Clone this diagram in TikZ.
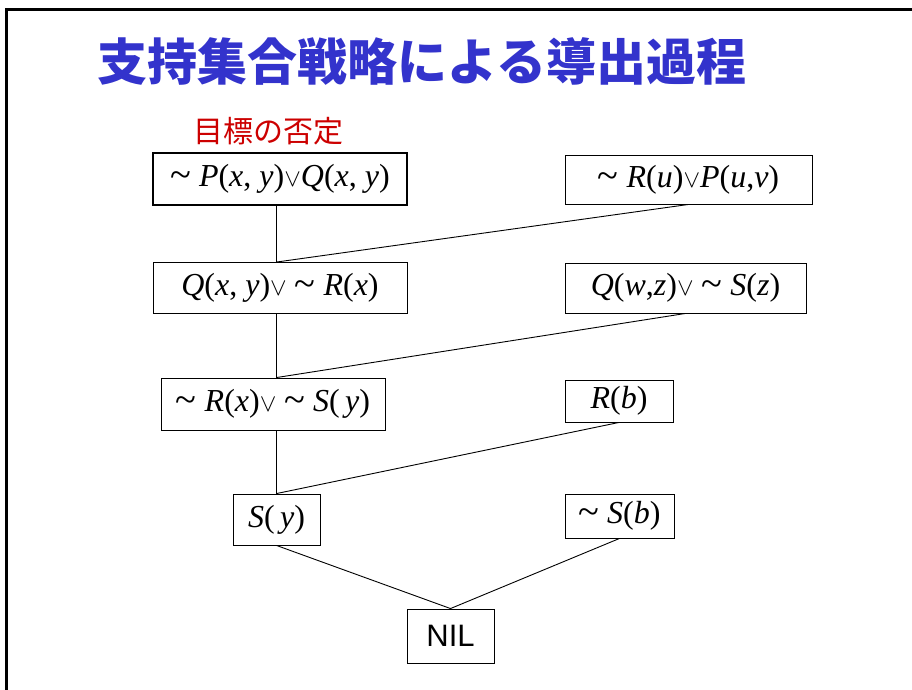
\documentclass[tikz,border=0pt]{standalone}
\usepackage{fontspec}
\setmainfont{Liberation Serif}
\newfontfamily\cjk{Noto Sans CJK JP}
\newfontfamily\nilfont{Liberation Sans}
\usetikzlibrary{positioning}
\definecolor{titleblue}{RGB}{51,51,204}
\definecolor{goalred}{RGB}{204,0,0}
\newcommand{\mi}[1]{\textit{#1}}
\newcommand{\tld}{\raisebox{-0.04em}{\scalebox{1.2}{\textasciitilde}}\ }
\begin{document}
\begin{tikzpicture}[x=1pt,y=-1pt,
  every node/.style={inner sep=0pt,font=\fontsize{32}{36}\selectfont},
  clause/.style={draw,line width=0.9pt}]
\useasboundingbox (0,0) rectangle (912,690);
% slide frame (left and top edges)
\draw[line width=3pt] (6.5,690) -- (6.5,9.5) -- (912,9.5);
% title and goal label
\node[font=\cjk\bfseries\fontsize{50}{56}\selectfont,text=titleblue] (title) at (422,62) {支持集合戦略による導出過程};
\node[font=\cjk\fontsize{30}{34}\selectfont,text=goalred] (goal) at (268,131) {目標の否定};
% clauses: left column = resolvents, right column = support clauses
\node[clause,line width=1.6pt,minimum width=254,minimum height=52] (b1) at (280,179) {\tld\mi{P}(\mi{x}, \mi{y})$\vee$\mi{Q}(\mi{x}, \mi{y})};
\node[clause,minimum width=247,minimum height=49] (b2) at (688.5,179.5) {\tld\mi{R}(\mi{u})$\vee$\mi{P}(\mi{u},\mi{v})};
\node[clause,minimum width=254,minimum height=51] (b3) at (280,288) {\mi{Q}(\mi{x}, \mi{y})$\vee$ \tld\mi{R}(\mi{x})};
\node[clause,minimum width=241,minimum height=50] (b4) at (685.5,288) {\mi{Q}(\mi{w},\mi{z})$\vee$ \tld\mi{S}(\mi{z})};
\node[clause,minimum width=224,minimum height=52] (b5) at (273,404) {\tld\mi{R}(\mi{x})$\vee$ \tld\mi{S}(\,\mi{y})};
\node[clause,minimum width=108,minimum height=42] (b6) at (619,401) {\mi{R}(\mi{b})};
\node[clause,minimum width=87,minimum height=51] (b7) at (276.5,519.5) {\mi{S}(\,\mi{y})};
\node[clause,minimum width=109,minimum height=44] (b8) at (619.5,516) {\tld\mi{S}(\mi{b})};
\node[clause,minimum width=87,minimum height=54,font=\nilfont\fontsize{31}{34}\selectfont] (nil) at (450.5,636) {NIL};
% resolution steps
\foreach \a/\b in {b1/b3,b3/b5,b5/b7}{
  \draw[line width=0.9pt] (\a.south -| b7.north) -- (\b.north -| b7.north);}
\foreach \a/\b in {b2/b3,b4/b5,b6/b7}{
  \draw[line width=0.9pt] (\a.south) -- (\b.north -| b7.north);}
\draw[line width=0.9pt] (b7.south) -- (nil.north) -- (b8.south);
\end{tikzpicture}
\end{document}
